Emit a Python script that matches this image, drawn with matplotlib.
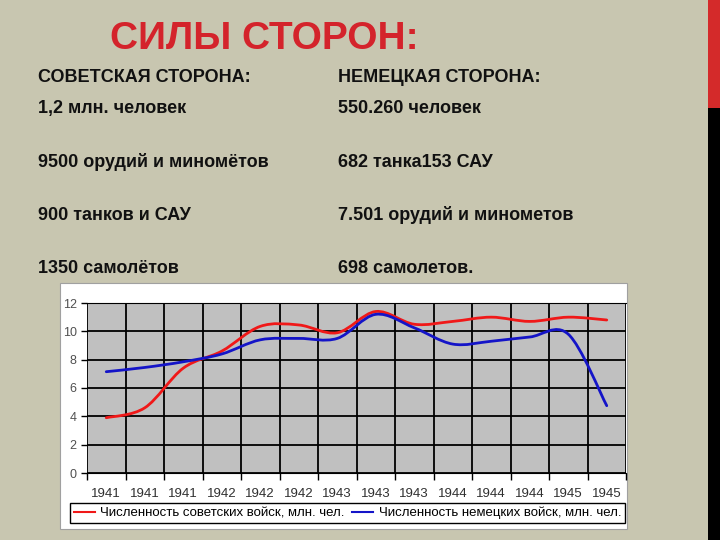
import numpy as np
import matplotlib
matplotlib.use("Agg")
import matplotlib.pyplot as plt
from matplotlib.path import Path
from matplotlib.patches import PathPatch, Rectangle
from matplotlib.lines import Line2D

plt.rcParams['font.family'] = ['Liberation Sans', 'DejaVu Sans']

# data
years = ['1941', '1941', '1941', '1942', '1942', '1942', '1943',
         '1943', '1943', '1944', '1944', '1944', '1945', '1945']
soviet = [3.9, 4.6, 7.4, 8.6, 10.35, 10.45, 9.9, 11.4, 10.5, 10.7, 11.0, 10.7, 11.0, 10.8]
german = [7.15, 7.45, 7.85, 8.4, 9.4, 9.5, 9.5, 11.2, 10.25, 9.1, 9.3, 9.6, 9.8, 4.75]
series_names = ['Численность советских войск, млн. чел.',
                'Численность немецких войск, млн. чел.']

title = 'СИЛЫ СТОРОН:'
left_col = ['СОВЕТСКАЯ СТОРОНА:', '1,2 млн. человек', '9500 орудий и миномётов',
            '900 танков и САУ', '1350 самолётов']
right_col = ['НЕМЕЦКАЯ СТОРОНА:', '550.260 человек', '682 танка153 САУ',
             '7.501 орудий и минометов', '698 самолетов.']

W, H = 720, 540
bg = '#c8c6b0'


def fx(px):
    return px / W


def fy(py):
    return 1 - py / H


def smooth_path(xs, ys):
    # excel-like smoothed line: cubic bezier segments (catmull-rom tangents)
    pts = np.column_stack([xs, ys]).astype(float)
    n = len(pts)
    verts = [pts[0]]
    codes = [Path.MOVETO]
    for i in range(n - 1):
        p0 = pts[i - 1] if i > 0 else pts[i]
        p1 = pts[i]
        p2 = pts[i + 1]
        p3 = pts[i + 2] if i + 2 < n else pts[i + 1]
        c1 = p1 + (p2 - p0) / 6.0
        c2 = p2 - (p3 - p1) / 6.0
        verts += [c1, c2, p2]
        codes += [Path.CURVE4] * 3
    return Path(verts, codes)


fig = plt.figure(figsize=(7.2, 5.4), dpi=100, facecolor=bg)

# right edge strip
fig.patches.append(Rectangle((fx(708), fy(108)), fx(12), 108 / H, transform=fig.transFigure,
                             facecolor='#d42a2a', edgecolor='none', zorder=-2))
fig.patches.append(Rectangle((fx(708), 0), fx(12), fy(108), transform=fig.transFigure,
                             facecolor='black', edgecolor='none', zorder=-2))

# title and text
fig.text(fx(110), fy(49), title, color='#d4232b', fontsize=28, fontweight='bold',
         ha='left', va='baseline')
baselines = [82, 113, 167, 220, 273]
for txt, b in zip(left_col, baselines):
    fig.text(fx(38), fy(b), txt, fontsize=13, fontweight='bold', ha='left', va='baseline',
             color='#111111')
for txt, b in zip(right_col, baselines):
    fig.text(fx(338), fy(b), txt, fontsize=13, fontweight='bold', ha='left', va='baseline',
             color='#111111')

# white chart box
fig.patches.append(Rectangle((fx(60), fy(529)), fx(567), 246 / H, transform=fig.transFigure,
                             facecolor='white', edgecolor='#a0a0a0', lw=0.8, zorder=-1))

ax = fig.add_axes([fx(87), fy(473), fx(626 - 87), (473 - 303) / H])
ax.set_zorder(2)
ax.set_facecolor('#c0c0c0')
x = np.arange(len(years))
ax.set_xlim(-0.5, len(years) - 0.5)
ax.set_ylim(0, 12)

ax.set_xticks(np.arange(-0.5, len(years), 1.0))
ax.set_xticklabels([])
ax.set_xticks(x, minor=True)
ax.set_xticklabels(years, minor=True, fontsize=9.5, color='#303030')
ax.tick_params(axis='x', which='major', length=5, width=1, color='black', direction='out')
ax.tick_params(axis='x', which='minor', length=0, pad=11)
ax.set_yticks(np.arange(0, 13, 2))
ax.tick_params(axis='y', length=4, width=1, color='black', labelsize=9, labelcolor='#505050')
ax.grid(True, which='major', color='black', lw=1.3)
ax.set_axisbelow(True)
for s in ['left', 'right']:
    ax.spines[s].set_visible(False)
ax.spines['top'].set_color('black')
ax.spines['bottom'].set_color('black')

colors = ['#f01818', '#1414c8']
for ys, c in zip([soviet, german], colors):
    ax.add_patch(PathPatch(smooth_path(x, ys), facecolor='none', edgecolor=c, lw=2.0,
                           capstyle='round', zorder=3))

handles = [Line2D([], [], color=c, lw=1.5) for c in colors]
leg = fig.legend(handles, series_names, loc='center', ncol=2, mode='expand',
                 bbox_to_anchor=(fx(70), fy(524), fx(555), 22 / H),
                 fontsize=9.5, frameon=True, fancybox=False, edgecolor='black',
                 framealpha=1, handlelength=1.6, handletextpad=0.4, borderpad=0.3,
                 columnspacing=1.0, borderaxespad=0)
leg.set_zorder(3)

fig.savefig('out.png', dpi=100, facecolor=bg)
